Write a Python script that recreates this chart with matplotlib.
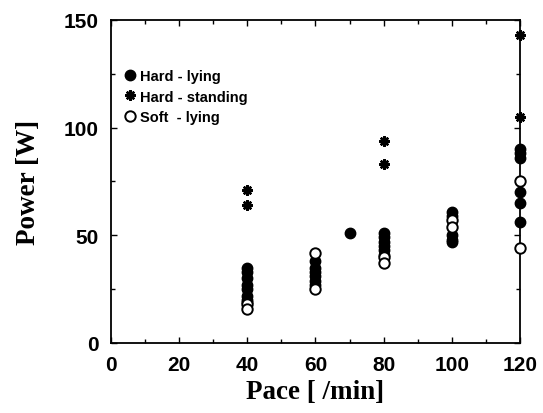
"""Power against pace for hard and soft surfaces."""

import matplotlib

matplotlib.use("Agg")
import matplotlib.pyplot as plt
from matplotlib.ticker import MultipleLocator

# hard surface, lying
hard_lying_pace = [40] * 8 + [60] * 6 + [70] + [80] * 6 + [100] * 5 + [120] * 6
hard_lying_power = [35, 33, 30, 27, 25, 22, 20, 19,
                    38, 35, 33, 31, 29, 27,
                    51,
                    51, 49, 47, 45, 43, 41,
                    61, 59, 50, 48, 47,
                    90, 88, 86, 70, 65, 56]

# hard surface, standing
hard_standing_pace = [40, 40, 80, 80, 120, 120]
hard_standing_power = [71, 64, 94, 83, 143, 105]

# soft surface, lying
soft_lying_pace = [40, 40, 60, 60, 80, 80, 100, 100, 120, 120]
soft_lying_power = [18, 16, 42, 25, 40, 37, 57, 54, 75, 44]

fig = plt.figure(figsize=(5.43, 4.14), dpi=100)
ax = fig.add_axes([0.2044, 0.1691, 0.7532, 0.7802])

ax.plot(hard_lying_pace, hard_lying_power, "o", color="black",
        markersize=7.5, clip_on=False, label="Hard - lying", zorder=3)
ax.plot(hard_standing_pace, hard_standing_power, marker=(8, 2, 0), linestyle="none",
        color="black", markersize=7.5, markeredgewidth=1.7, clip_on=False,
        label="Hard - standing", zorder=3)
ax.plot(soft_lying_pace, soft_lying_power, "o", markerfacecolor="white",
        markeredgecolor="black", markeredgewidth=1.4, markersize=7.5, clip_on=False,
        label="Soft  - lying", zorder=4)

ax.set_xlim(0, 120)
ax.set_ylim(0, 150)
ax.xaxis.set_major_locator(MultipleLocator(20))
ax.xaxis.set_minor_locator(MultipleLocator(10))
ax.yaxis.set_major_locator(MultipleLocator(50))
ax.yaxis.set_minor_locator(MultipleLocator(25))
ax.tick_params(which="both", direction="in", top=True, right=True, width=1.0)
ax.tick_params(which="major", length=4, labelsize=15, pad=9)
ax.tick_params(which="minor", length=3)
for label in ax.get_xticklabels() + ax.get_yticklabels():
    label.set_family("Liberation Sans")
    label.set_fontweight("bold")
for spine in ax.spines.values():
    spine.set_linewidth(1.3)

ax.set_xlabel("Pace [ /min]", family="Liberation Serif", fontweight="bold",
              fontsize=19.5, labelpad=3)
ax.set_ylabel("Power [W]", family="Liberation Serif", fontweight="bold",
              fontsize=19.5, labelpad=16)

ax.legend(loc="upper left", bbox_to_anchor=(0.0, 0.88), frameon=False,
          handletextpad=0.1, handlelength=1.2, borderaxespad=0.3,
          labelspacing=0.45, prop={"family": "Liberation Sans", "size": 10.5,
                                   "weight": "bold"})

fig.savefig("out.png", dpi=100)
